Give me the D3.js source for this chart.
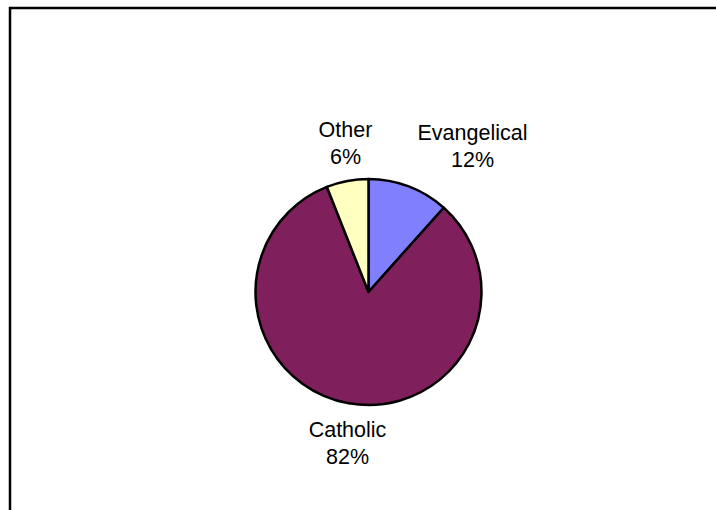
<!DOCTYPE html>
<html>
<head>
<meta charset="utf-8">
<script src="https://cdn.jsdelivr.net/npm/d3@7"></script>
<style>
  html, body { margin: 0; padding: 0; background: #fff; }
  svg { display: block; }
  text { font-family: "Liberation Sans", Arial, sans-serif; fill: #000; }
</style>
</head>
<body>
<svg id="chart" width="716" height="510"></svg>
<script>
const categories = ["Evangelical", "Catholic", "Other"];
const values = [11.6, 82.4, 6.0];
const labels = ["12%", "82%", "6%"];
const colors = ["#8080FF", "#7F1F5C", "#FFFFC0"];

const svg = d3.select("#chart");

// outer frame
svg.append("rect")
  .attr("x", 10).attr("y", 8)
  .attr("width", 720).attr("height", 520)
  .attr("fill", "none").attr("stroke", "#000").attr("stroke-width", 2.5);

const cx = 368.5, cy = 292, r = 113;

const pie = d3.pie().sort(null).value(d => d.v);
const data = categories.map((c, i) => ({ name: c, v: values[i], label: labels[i], color: colors[i] }));
const arcs = pie(data);
const arc = d3.arc().innerRadius(0).outerRadius(r);

const g = svg.append("g").attr("transform", `translate(${cx},${cy})`);
g.selectAll("path").data(arcs).join("path")
  .attr("d", arc)
  .attr("fill", d => d.data.color)
  .attr("stroke", "#000")
  .attr("stroke-width", 2.5)
  .attr("stroke-linejoin", "round");

// label positions (relative offsets from pie center)
const labelPos = {
  "Evangelical": [104, -152],
  "Catholic": [-21, 145],
  "Other": [-23, -155]
};
const fs = 21.5;
arcs.forEach(d => {
  const p = labelPos[d.data.name];
  const t = g.append("text")
    .attr("text-anchor", "middle")
    .attr("font-size", fs)
    .attr("x", p[0]).attr("y", p[1]);
  t.append("tspan").attr("x", p[0]).attr("dy", 0).text(d.data.name);
  t.append("tspan").attr("x", p[0]).attr("dy", 27).text(d.data.label);
});
</script>
</body>
</html>
